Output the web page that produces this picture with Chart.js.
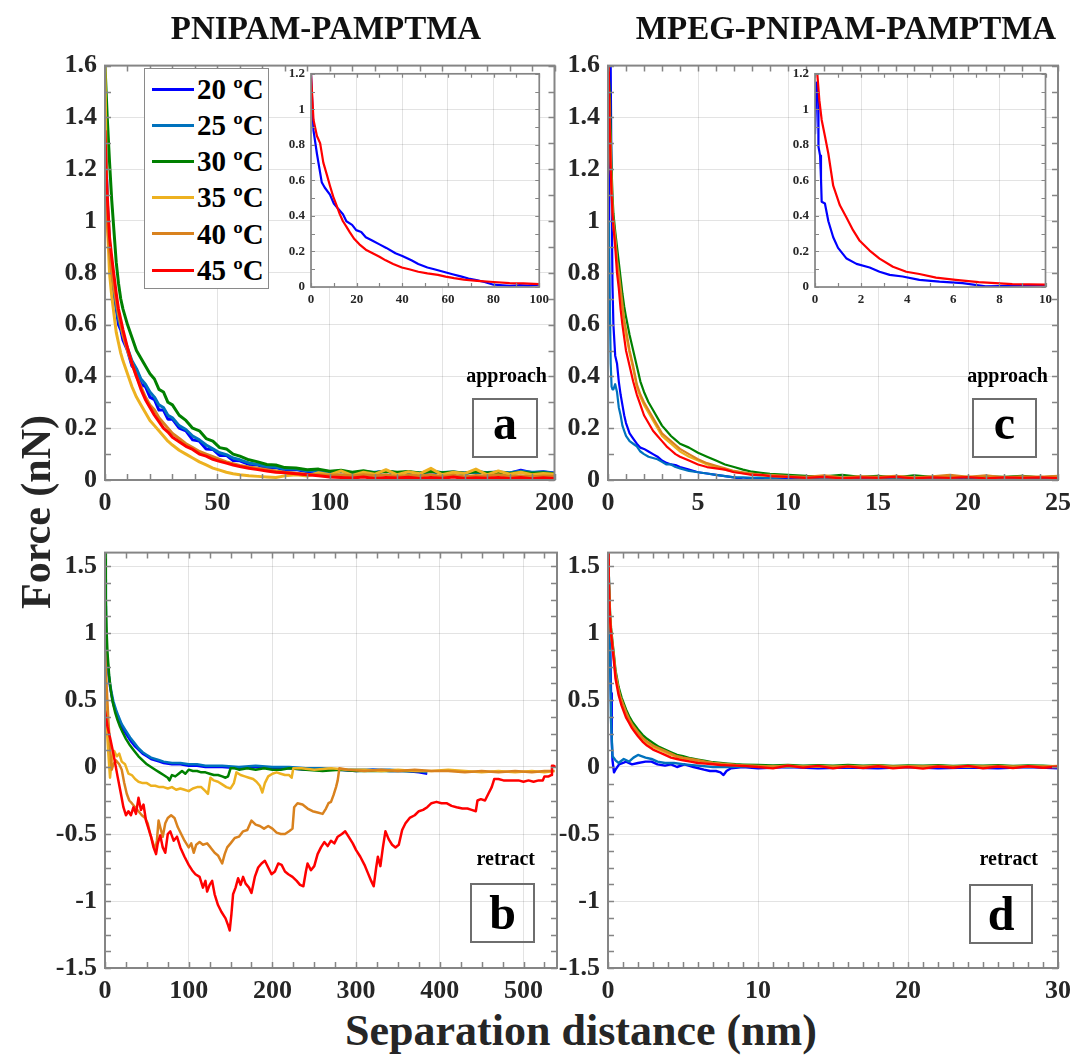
<!DOCTYPE html>
<html>
<head>
<meta charset="utf-8">
<script src="https://cdn.jsdelivr.net/npm/chart.js@4.4.0/dist/chart.umd.min.js"></script>
<style>
  body { margin: 0; background: #fff; width: 1079px; height: 1061px; position: relative; overflow: hidden;
         font-family: 'Liberation Serif', 'Times New Roman', serif; }
  canvas { position: absolute; }
  .t { position: absolute; font-weight: bold; line-height: 1; white-space: nowrap; }
  .legend { position: absolute; left: 144px; top: 68px; width: 125px; height: 221px; box-sizing: border-box;
            border: 1.5px solid #8a8a8a; background: #fff; }
  .lbox { position: absolute; box-sizing: border-box; border: 2px solid #6e6e6e; display: flex;
          align-items: center; justify-content: center; font-weight: bold; font-size: 48px; line-height: 1; }
</style>
</head>
<body>
<script>
// ---- data ----
const temps = ['20 ºC', '25 ºC', '30 ºC', '35 ºC', '40 ºC', '45 ºC'];
const colors = ['#0000ff', '#0072bd', '#008000', '#edb120', '#d9821e', '#ff0000'];

// panel a: approach, PNIPAM-PAMPTMA
const xA = [0,0.5,1,2,3,4,5,6,7,8,10,12,14,16,18,20,22,24,26,28,30,33,36,39,42,45,48,51,54,57,
  60,64,68,72,76,80,85,90,95,100,105,110,115,120,125,130,135,140,145,150,155,160,165,170,175,180,185,190,195,200];
const a20 = [1.5,1.22,1.06,0.9,0.8,0.72,0.66,0.6,0.58,0.54,0.5,0.44,0.42,0.37,0.36,0.32,0.31,0.27,0.27,0.235,
  0.235,0.2,0.19,0.155,0.15,0.12,0.118,0.095,0.095,0.075,0.074,0.06,0.058,0.046,0.048,0.038,0.04,0.032,0.036,0.028,
  0.034,0.026,0.032,0.028,0.035,0.027,0.031,0.025,0.033,0.027,0.03,0.026,0.032,0.028,0.03,0.026,0.038,0.028,0.032,0.027];
const a25 = [1.55,1.25,1.08,0.92,0.81,0.73,0.67,0.62,0.59,0.56,0.51,0.46,0.43,0.39,0.37,0.34,0.32,0.29,0.28,0.25,
  0.24,0.21,0.195,0.17,0.155,0.135,0.12,0.105,0.098,0.085,0.078,0.066,0.06,0.052,0.05,0.042,0.042,0.036,0.036,0.032,
  0.033,0.028,0.03,0.03,0.033,0.028,0.03,0.027,0.032,0.029,0.031,0.027,0.03,0.029,0.031,0.028,0.034,0.03,0.031,0.026];
const a30 = [1.6,1.5,1.4,1.23,1.08,0.96,0.84,0.76,0.7,0.66,0.6,0.55,0.5,0.47,0.44,0.41,0.39,0.35,0.34,0.3,
  0.29,0.25,0.23,0.2,0.19,0.16,0.15,0.125,0.12,0.1,0.092,0.078,0.07,0.06,0.058,0.048,0.046,0.04,0.042,0.034,
  0.038,0.03,0.036,0.028,0.034,0.03,0.033,0.027,0.034,0.028,0.031,0.026,0.033,0.027,0.03,0.025,0.03,0.026,0.028,0.024];
const a35 = [1.6,1.22,1.0,0.8,0.71,0.64,0.57,0.53,0.49,0.46,0.41,0.36,0.32,0.29,0.26,0.23,0.21,0.19,0.17,0.15,
  0.135,0.115,0.1,0.085,0.07,0.058,0.046,0.038,0.03,0.024,0.02,0.016,0.014,0.012,0.01,0.016,0.02,0.015,0.028,0.02,
  0.035,0.018,0.03,0.022,0.04,0.02,0.032,0.024,0.045,0.02,0.03,0.025,0.042,0.02,0.035,0.022,0.03,0.02,0.025,0.022];
const a40 = [1.3,1.12,1.0,0.88,0.8,0.74,0.69,0.64,0.6,0.56,0.5,0.45,0.4,0.36,0.32,0.29,0.27,0.24,0.22,0.2,
  0.18,0.16,0.14,0.125,0.11,0.1,0.09,0.08,0.07,0.063,0.056,0.05,0.045,0.04,0.035,0.03,0.026,0.022,0.02,0.018,
  0.02,0.015,0.02,0.016,0.02,0.014,0.018,0.015,0.02,0.014,0.018,0.013,0.017,0.015,0.02,0.014,0.016,0.013,0.015,0.014];
const a45 = [1.35,1.2,1.1,0.94,0.86,0.79,0.72,0.66,0.62,0.58,0.51,0.45,0.4,0.35,0.31,0.28,0.25,0.225,0.2,0.185,
  0.165,0.148,0.13,0.118,0.1,0.092,0.08,0.072,0.065,0.058,0.052,0.045,0.04,0.035,0.03,0.028,0.024,0.02,0.016,0.012,
  0.01,0.008,0.012,0.006,0.01,0.008,0.011,0.006,0.01,0.007,0.012,0.006,0.009,0.007,0.01,0.006,0.01,0.005,0.009,0.006];

// panel c: approach, MPEG-PNIPAM-PAMPTMA
const xC = [0,0.05,0.1,0.15,0.2,0.25,0.3,0.4,0.5,0.6,0.7,0.8,0.9,1,1.2,1.4,1.6,1.8,2,2.25,
  2.5,2.75,3,3.25,3.5,3.75,4,4.5,5,5.5,6,6.5,7,7.5,8,8.5,9,10,11,12,13,14,15,16,17,18,19,20,21,22,23,24,25];
const c20 = [0.9,1.2,1.4,1.6,1.1,0.75,0.6,0.48,0.45,0.38,0.33,0.29,0.25,0.22,0.18,0.16,0.14,0.125,0.12,0.11,
  0.1,0.09,0.075,0.066,0.06,0.058,0.05,0.04,0.03,0.025,0.02,0.015,0.01,0.002,0.006,0.004,0.006,0.008,0.004,0.01,
  0.006,0.009,0.005,0.012,0.004,0.008,0.006,0.01,0.005,0.009,0.004,0.008,0.006];
const c25 = [0.6,1.0,0.7,0.45,0.36,0.35,0.35,0.37,0.34,0.28,0.25,0.21,0.19,0.17,0.15,0.14,0.13,0.11,0.1,0.09,
  0.085,0.08,0.07,0.06,0.06,0.05,0.045,0.035,0.03,0.025,0.02,0.015,0.01,0.01,0.008,0.01,0.006,0.012,0.008,0.01,
  0.006,0.012,0.007,0.01,0.006,0.01,0.008,0.012,0.006,0.01,0.008,0.012,0.007];
const c30 = [1.6,1.6,1.5,1.35,1.2,1.1,1.03,0.96,0.9,0.84,0.78,0.72,0.67,0.63,0.56,0.5,0.44,0.38,0.34,0.3,
  0.27,0.24,0.21,0.19,0.17,0.155,0.14,0.125,0.105,0.09,0.075,0.06,0.05,0.04,0.032,0.028,0.024,0.02,0.016,0.014,
  0.02,0.012,0.016,0.01,0.018,0.012,0.015,0.01,0.014,0.012,0.016,0.01,0.014];
const c35 = [1.6,1.5,1.38,1.22,1.12,1.04,0.98,0.92,0.84,0.78,0.72,0.66,0.6,0.56,0.49,0.43,0.36,0.32,0.29,0.26,
  0.23,0.2,0.17,0.155,0.14,0.125,0.11,0.09,0.075,0.06,0.05,0.04,0.032,0.026,0.022,0.018,0.016,0.012,0.01,0.012,
  0.008,0.012,0.01,0.013,0.009,0.012,0.01,0.013,0.008,0.012,0.01,0.012,0.01];
const c40 = [1.6,1.5,1.4,1.25,1.15,1.06,1.0,0.94,0.85,0.8,0.74,0.68,0.62,0.58,0.5,0.44,0.37,0.33,0.3,0.27,
  0.24,0.21,0.18,0.165,0.15,0.135,0.12,0.1,0.08,0.065,0.055,0.045,0.035,0.03,0.025,0.02,0.02,0.015,0.012,0.018,
  0.01,0.014,0.012,0.016,0.01,0.014,0.02,0.012,0.018,0.01,0.014,0.012,0.016];
const c45 = [1.6,1.55,1.35,1.2,1.1,1.03,0.98,0.9,0.8,0.74,0.66,0.6,0.55,0.5,0.44,0.38,0.33,0.29,0.25,0.22,
  0.19,0.17,0.15,0.13,0.115,0.1,0.09,0.075,0.06,0.05,0.045,0.04,0.03,0.025,0.02,0.02,0.015,0.012,0.008,0.012,
  0.006,0.01,0.008,0.012,0.006,0.01,0.008,0.011,0.006,0.01,0.008,0.01,0.007];

// panel b: retract, PNIPAM-PAMPTMA
const bXblue = [0,1,2,4,6,8,10,13,16,20,25,30,35,40,45,50,55,60,65,70,80,90,100,110,120,140,160,180,200,220,
  240,260,280,300,320,340,360,375,385];
const b20 = [1.2,1.0,0.85,0.7,0.6,0.53,0.47,0.41,0.36,0.3,0.25,0.2,0.16,0.13,0.1,0.08,0.06,0.05,0.04,0.03,
  0.02,0.02,0.01,0.01,0.0,0.0,-0.01,0.0,-0.01,-0.01,-0.02,-0.02,-0.02,-0.03,-0.02,-0.03,-0.03,-0.04,-0.05];
const b25 = [1.4,1.05,0.88,0.72,0.62,0.55,0.49,0.43,0.38,0.32,0.27,0.22,0.18,0.14,0.11,0.09,0.07,0.06,0.05,0.04,
  0.03,0.03,0.02,0.02,0.01,0.01,0.0,0.01,0.0,0.0,-0.01,-0.01,-0.02,-0.02,-0.02,-0.02,-0.03,-0.03,-0.04];
const bX30 = [0,1,2,3,5,7,9,12,15,18,21,25,30,35,40,45,50,55,60,65,70,75,77,80,84,88,92,96,100,105,
  110,115,120,125,130,135,140,144,147,150,155,160,170,180,190,200,210,220,240,260,280,300,320,340,360,380];
const b30 = [1.6,1.25,1.0,0.85,0.68,0.57,0.49,0.41,0.35,0.3,0.26,0.21,0.16,0.12,0.08,0.05,0.02,0.0,-0.02,-0.04,
  -0.06,-0.08,-0.1,-0.06,-0.07,-0.05,-0.03,-0.05,-0.02,-0.03,-0.03,-0.04,-0.04,-0.05,-0.06,-0.06,-0.07,-0.08,-0.07,-0.01,
  -0.01,-0.02,-0.01,-0.02,-0.01,-0.02,-0.02,-0.01,-0.02,-0.03,-0.02,-0.03,-0.03,-0.03,-0.03,-0.03];
const bX35 = [0,2,4,6,8,11,14,17,20,24,28,32,36,40,45,50,55,60,65,70,75,80,85,90,95,100,105,110,115,120,
  123,126,130,135,140,145,150,154,157,162,167,172,177,181,185,188,191,195,200,205,210,215,220,223,225,235,250,270,290,310,
  330,350,370,390,410,430,450,470,490,510,525,537];
const b35 = [0.56,0.3,0.1,-0.08,0.05,0.12,0.08,0.1,0.04,0.02,-0.05,-0.06,-0.09,-0.11,-0.12,-0.12,-0.14,-0.14,-0.15,-0.15,
  -0.16,-0.15,-0.17,-0.16,-0.17,-0.18,-0.16,-0.15,-0.15,-0.18,-0.2,-0.08,-0.1,-0.11,-0.13,-0.15,-0.16,-0.12,-0.04,-0.06,
  -0.07,-0.08,-0.09,-0.11,-0.14,-0.19,-0.12,-0.07,-0.05,-0.04,-0.05,-0.06,-0.06,-0.08,-0.01,-0.01,-0.02,-0.01,-0.02,-0.02,
  -0.03,-0.02,-0.03,-0.03,-0.02,-0.03,-0.04,-0.03,-0.04,-0.03,-0.04,-0.03];
const bX40 = [0,2,4,6,8,10,13,17,20,23,26,29,32,36,40,44,48,51,54,57,60,62,64,66,69,72,75,79,83,87,
  91,95,100,103,106,109,113,117,122,126,131,135,140,143,146,150,155,160,165,170,175,180,185,190,195,200,205,210,215,220,
  224,226,230,236,242,248,254,260,264,267,270,273,276,278,280,290,310,330,350,370,390,410,430,450,470,490,510,525,537];
const b40 = [0.87,0.6,0.35,0.15,-0.02,0.02,0.05,0.02,-0.02,-0.12,-0.2,-0.25,-0.27,-0.3,-0.33,-0.36,-0.38,-0.42,-0.5,-0.56,
  -0.62,-0.55,-0.4,-0.45,-0.52,-0.42,-0.38,-0.36,-0.38,-0.45,-0.5,-0.55,-0.6,-0.57,-0.64,-0.58,-0.56,-0.58,-0.57,-0.6,
  -0.64,-0.66,-0.72,-0.65,-0.6,-0.57,-0.53,-0.52,-0.48,-0.47,-0.4,-0.43,-0.44,-0.46,-0.44,-0.46,-0.49,-0.5,-0.5,-0.48,
  -0.46,-0.3,-0.27,-0.28,-0.31,-0.33,-0.34,-0.35,-0.31,-0.27,-0.26,-0.21,-0.15,-0.1,-0.01,-0.02,-0.03,-0.02,-0.03,-0.02,
  -0.03,-0.03,-0.04,-0.03,-0.04,-0.03,-0.04,-0.03,-0.03];
const bX45 = [0,3,6,10,15,19,22,25,28,31,34,37,40,43,46,49,52,55,58,61,63,66,69,72,75,78,82,86,90,95,
  100,104,108,113,117,120,122,125,128,131,135,139,144,147,149,151,153,156,159,162,165,168,172,175,179,183,187,191,195,199,
  203,207,211,215,219,224,229,233,237,240,242,246,250,254,258,262,266,270,274,278,283,287,291,296,300,305,310,314,318,321,
  324,326,329,332,335,339,343,347,351,355,359,364,370,375,380,385,390,396,402,408,414,420,427,433,438,443,445,449,454,458,
  462,465,470,476,482,488,494,500,506,512,518,523,525,530,533,534,536,538];
const b45 = [0.42,0.3,0.22,0.1,-0.07,-0.2,-0.3,-0.36,-0.33,-0.36,-0.3,-0.35,-0.23,-0.32,-0.28,-0.4,-0.46,-0.52,-0.6,-0.65,
  -0.57,-0.51,-0.6,-0.64,-0.5,-0.48,-0.55,-0.52,-0.6,-0.67,-0.73,-0.77,-0.8,-0.82,-0.9,-0.85,-0.93,-0.88,-0.85,-0.95,
  -1.03,-1.08,-1.13,-1.18,-1.22,-1.1,-0.95,-0.9,-0.83,-0.88,-0.82,-0.87,-0.9,-0.94,-0.82,-0.75,-0.72,-0.7,-0.75,-0.8,
  -0.78,-0.72,-0.73,-0.78,-0.8,-0.82,-0.85,-0.88,-0.89,-0.78,-0.72,-0.77,-0.74,-0.65,-0.6,-0.56,-0.59,-0.55,-0.57,-0.52,
  -0.5,-0.48,-0.52,-0.57,-0.62,-0.67,-0.73,-0.79,-0.85,-0.89,-0.75,-0.67,-0.74,-0.6,-0.48,-0.54,-0.58,-0.6,-0.58,-0.47,
  -0.42,-0.38,-0.36,-0.33,-0.32,-0.3,-0.27,-0.26,-0.27,-0.27,-0.29,-0.3,-0.31,-0.31,-0.32,-0.33,-0.25,-0.24,-0.25,-0.2,
  -0.15,-0.09,-0.09,-0.1,-0.1,-0.1,-0.1,-0.11,-0.1,-0.11,-0.1,-0.1,-0.07,-0.07,-0.06,0.01,0.01,0.0];

// panel d: retract, MPEG-PNIPAM-PAMPTMA
const dX20 = [0,0.05,0.1,0.15,0.2,0.25,0.3,0.4,0.5,0.74,1,1.2,1.6,2,2.5,2.9,3.3,3.8,4.2,4.6,
  5.1,5.7,6.4,6.8,7.2,7.5,7.7,7.9,8.2,9,10,12,14,16,18,20,22,24,26,28,30];
const d20 = [1.5,1.45,1.2,0.9,0.55,0.2,0.05,-0.04,-0.02,0.02,0.03,0.04,0.02,0.03,0.04,0.04,0.02,0.01,0.02,0.0,
  0.02,0.0,-0.02,-0.03,-0.03,-0.04,-0.06,-0.03,-0.01,0.0,-0.01,0.0,-0.01,-0.005,-0.01,0.0,-0.01,-0.005,-0.01,0.0,-0.01];
const dX25 = [0,0.05,0.1,0.15,0.2,0.3,0.5,0.7,1.05,1.4,1.7,2,2.5,2.9,3.3,3.8,4.4,5.1,6,7,8,10,12,14,16,18,20,22,24,26,28,30];
const d25 = [1.3,1.2,1.0,0.7,0.35,0.08,0.05,0.03,0.06,0.04,0.07,0.09,0.07,0.06,0.04,0.03,0.03,0.02,0.01,0.0,
  0.0,0.005,0.0,0.005,0.0,0.004,0.0,0.005,0.0,0.004,0.0,0.004];
const xD = [0,0.05,0.1,0.15,0.2,0.3,0.4,0.5,0.6,0.7,0.8,0.9,1,1.2,1.4,1.6,1.8,2,2.3,2.6,
  3,3.4,3.8,4.2,4.6,5,5.5,6,6.5,7,7.5,8,8.5,9,10,11,12,13,14,15,16,17,18,19,20,21,22,23,24,25,26,27,28,29,30];
const d30 = [1.6,1.45,1.25,1.12,1.04,0.93,0.83,0.72,0.66,0.6,0.56,0.52,0.49,0.43,0.38,0.34,0.31,0.28,0.24,0.21,
  0.18,0.15,0.13,0.11,0.09,0.08,0.065,0.055,0.045,0.035,0.03,0.025,0.02,0.018,0.015,0.012,0.016,0.01,0.014,0.01,
  0.015,0.01,0.014,0.008,0.012,0.01,0.014,0.008,0.012,0.01,0.013,0.008,0.012,0.01,0.005];
const d35 = [1.55,1.4,1.2,1.08,1.0,0.9,0.8,0.69,0.63,0.57,0.52,0.49,0.46,0.4,0.35,0.31,0.28,0.25,0.21,0.18,
  0.15,0.13,0.11,0.09,0.075,0.065,0.055,0.045,0.035,0.028,0.022,0.018,0.014,0.01,0.006,0.004,0.008,0.003,0.006,0.002,
  0.006,0.003,0.007,0.002,0.005,0.003,0.006,0.002,0.005,0.003,0.006,0.002,0.005,0.003,0.006];
const d40 = [1.55,1.42,1.22,1.1,1.02,0.91,0.81,0.7,0.64,0.58,0.53,0.5,0.47,0.41,0.36,0.32,0.29,0.26,0.22,0.19,
  0.16,0.14,0.12,0.1,0.08,0.07,0.06,0.05,0.04,0.03,0.025,0.02,0.015,0.012,0.008,0.005,0.01,0.004,0.008,0.003,
  0.008,0.004,0.009,0.002,0.006,0.004,0.008,0.003,0.006,0.004,0.007,0.003,0.006,0.004,0.008];
const d45 = [1.6,1.4,1.2,1.08,1.0,0.89,0.78,0.66,0.6,0.54,0.5,0.46,0.43,0.37,0.33,0.29,0.26,0.23,0.19,0.16,
  0.13,0.11,0.09,0.07,0.06,0.05,0.04,0.03,0.025,0.02,0.015,0.012,0.01,0.008,0.0,-0.01,0.01,-0.005,0.008,-0.01,
  0.005,-0.008,0.006,-0.01,0.0,-0.012,0.004,-0.006,0.008,-0.01,0.004,-0.008,0.006,-0.006,0.002];

// insets (approach, 20 ºC and 45 ºC)
const iaX20 = [0,1.1,2.6,4.7,6,8.3,10,11.9,14,15.5,18,19.8,22,24,27,30,33,37,40,44,47,51,54,58,62,65.6,69,73,76,80,84,87,91,95,100];
const ia20 = [1.2,0.88,0.75,0.59,0.56,0.52,0.47,0.44,0.41,0.37,0.35,0.32,0.31,0.28,0.26,0.24,0.22,0.19,0.175,0.15,
  0.13,0.11,0.1,0.086,0.072,0.06,0.048,0.037,0.028,0.013,0.01,0.007,0.01,0.008,0.013];
const iaX45 = [0,1.1,2.6,4,5.4,7,8.3,9.7,11.2,12.6,14,15.5,16.9,19,21.2,24,27,30,32.7,36,39.8,43,47,51,55.6,59,62.7,67,72.8,80,87,93,100];
const ia45 = [1.2,0.94,0.85,0.81,0.7,0.63,0.57,0.51,0.46,0.41,0.37,0.34,0.31,0.27,0.24,0.21,0.19,0.17,0.15,0.13,
  0.11,0.1,0.086,0.077,0.068,0.058,0.05,0.042,0.035,0.028,0.022,0.02,0.016];
const icX20 = [0,0.07,0.14,0.15,0.22,0.26,0.29,0.43,0.58,0.79,1,1.37,1.8,2.37,2.8,3.24,3.8,4.53,5.4,6.4,7.4,8.6,10];
const ic20 = [0.86,1.15,1.07,0.79,0.74,0.61,0.48,0.47,0.37,0.28,0.22,0.16,0.13,0.11,0.086,0.068,0.059,0.04,0.03,0.022,0.004,0.007,0.01];
const icX45 = [0.1,0.19,0.29,0.43,0.58,0.79,1.08,1.37,1.65,1.94,2.37,2.8,3.38,3.96,4.53,5.25,6.1,7.1,8.56,10];
const ic45 = [1.2,1.05,0.94,0.85,0.75,0.57,0.46,0.39,0.32,0.26,0.205,0.16,0.114,0.086,0.073,0.053,0.04,0.027,0.016,0.013];

// tick labels
const tA = [0, 50, 100, 150, 200];
const tC = [0, 5, 10, 15, 20, 25];
const tB = [0, 100, 200, 300, 400, 500];
const tD = [0, 10, 20, 30];
const tYapp = [0, 0.2, 0.4, 0.6, 0.8, 1, 1.2, 1.4, 1.6];
const tYret = [-1.5, -1, -0.5, 0, 0.5, 1, 1.5];
const tIa = [0, 20, 40, 60, 80, 100];
const tIc = [0, 2, 4, 6, 8, 10];
const tIy = [0, 0.2, 0.4, 0.6, 0.8, 1, 1.2];

// ---- drawing ----
const SERIF = "'Liberation Serif', 'Times New Roman', serif";
const INK = '#262626';
const GRID = 'rgba(0,0,0,0.11)';

const pts = (xs, ys) => xs.map((x, i) => ({x: x, y: ys[i]}));

// MATLAB style box with inward ticks on all four sides
const frame = {
  id: 'frame',
  beforeDraw(chart, args, o) {
    if (!o.white) return;
    const a = chart.chartArea;
    chart.ctx.fillStyle = '#fff';
    chart.ctx.fillRect(a.left, a.top, a.right - a.left, a.bottom - a.top);
  },
  afterDatasetsDraw(chart, args, o) {
    const {ctx, chartArea: a, scales: {x, y}} = chart;
    const len = o.len;
    ctx.save();
    ctx.strokeStyle = '#858585';
    ctx.lineWidth = o.lw;
    ctx.beginPath();
    const nx = Math.floor((x.max - x.min) / o.mx + 1e-6);
    for (let i = 0; i <= nx; i++) {
      const p = Math.round(x.getPixelForValue(x.min + i * o.mx)) + 0.5;
      ctx.moveTo(p, a.bottom); ctx.lineTo(p, a.bottom - len);
      ctx.moveTo(p, a.top); ctx.lineTo(p, a.top + len);
    }
    const ny = Math.floor((y.max - y.min) / o.my + 1e-6);
    for (let i = 0; i <= ny; i++) {
      const p = Math.round(y.getPixelForValue(y.min + i * o.my)) + 0.5;
      ctx.moveTo(a.left, p); ctx.lineTo(a.left + len, p);
      ctx.moveTo(a.right, p); ctx.lineTo(a.right - len, p);
    }
    ctx.stroke();
    ctx.lineWidth = o.lw + 0.5;
    ctx.strokeRect(a.left, a.top, a.right - a.left, a.bottom - a.top);
    ctx.restore();
  }
};

function makeChart(o) {
  const cv = document.createElement('canvas');
  const L = o.area[0] - o.pad[0], T = o.area[1] - o.pad[1];
  cv.width = o.area[2] + o.pad[2] - L;
  cv.height = o.area[3] + o.pad[3] - T;
  cv.style.left = L + 'px';
  cv.style.top = T + 'px';
  document.body.appendChild(cv);
  const font = {family: SERIF, size: o.fs, weight: 'bold'};
  return new Chart(cv, {
    type: 'line',
    data: {
      datasets: o.series.map(s => ({
        data: s.data, borderColor: s.color, borderWidth: o.lw, pointRadius: 0,
        tension: 0, clip: 0, order: s.order, borderJoinStyle: 'round'
      }))
    },
    options: {
      responsive: false, animation: false, events: [],
      layout: {padding: {left: 0, top: o.pad[1], right: o.pad[2], bottom: 0}},
      plugins: {
        legend: {display: false}, tooltip: {enabled: false},
        frame: {mx: o.minor[0], my: o.minor[1], white: !!o.white, len: o.tickLen, lw: o.frameW}
      },
      scales: {
        x: {
          type: 'linear', min: o.xr[0], max: o.xr[1],
          afterFit: s => { s.height = o.pad[3]; },
          afterBuildTicks: s => { s.ticks = o.xt.map(v => ({value: v})); },
          grid: {color: GRID, drawTicks: false}, border: {display: false},
          ticks: {font, color: INK, padding: o.tp[0], maxRotation: 0, autoSkip: false, callback: v => String(v)}
        },
        y: {
          type: 'linear', min: o.yr[0], max: o.yr[1],
          afterFit: s => { s.width = o.pad[0]; },
          afterBuildTicks: s => { s.ticks = o.yt.map(v => ({value: v})); },
          grid: {color: GRID, drawTicks: false}, border: {display: false},
          ticks: {font, color: INK, padding: o.tp[1], autoSkip: false, callback: v => String(v)}
        }
      }
    },
    plugins: [frame]
  });
}

const six = (xs, ys) => ys.map((y, i) => ({
  data: pts(Array.isArray(xs[0]) ? xs[i] : xs, y), color: colors[i], order: 5 - i
}));

const mainOpts = {fs: 26, tp: [8, 8], tickLen: 6, frameW: 1.5};

makeChart(Object.assign({}, mainOpts, {
  area: [105, 58, 557, 480], pad: [65, 16, 25, 35], xr: [0, 200], yr: [0, 1.6], xt: tA, yt: tYapp,
  minor: [10, 0.1], lw: 3, series: six(xA, [a20, a25, a30, a35, a40, a45])
}));
makeChart(Object.assign({}, mainOpts, {
  area: [608, 58, 1058, 480], pad: [65, 16, 21, 35], xr: [0, 25], yr: [0, 1.6], xt: tC, yt: tYapp,
  minor: [1, 0.1], lw: 2.2, series: six(xC, [c20, c25, c30, c35, c40, c45])
}));
makeChart(Object.assign({}, mainOpts, {
  area: [105, 545, 557, 968], pad: [65, 16, 25, 35], xr: [0, 540], yr: [-1.5, 1.6], xt: tB, yt: tYret,
  minor: [25, 0.125], lw: 2.5,
  series: six([bXblue, bXblue, bX30, bX35, bX40, bX45], [b20, b25, b30, b35, b40, b45])
}));
makeChart(Object.assign({}, mainOpts, {
  area: [608, 545, 1058, 968], pad: [65, 16, 21, 35], xr: [0, 30], yr: [-1.5, 1.6], xt: tD, yt: tYret,
  minor: [1, 0.125], lw: 2.4,
  series: six([dX20, dX25, xD, xD, xD, xD], [d20, d25, d30, d35, d40, d45])
}));

const insetOpts = {fs: 13, tp: [5, 6], tickLen: 4, frameW: 1.2, lw: 2.2, white: true, pad: [30, 9, 10, 22]};
makeChart(Object.assign({}, insetOpts, {
  area: [311, 69, 544, 287], xr: [0, 100], yr: [0, 1.2], xt: tIa, yt: tIy, minor: [10, 0.1],
  series: [{data: pts(iaX20, ia20), color: colors[0], order: 1}, {data: pts(iaX45, ia45), color: colors[5], order: 0}]
}));
makeChart(Object.assign({}, insetOpts, {
  area: [815, 69, 1047, 287], xr: [0, 10], yr: [0, 1.2], xt: tIc, yt: tIy, minor: [1, 0.1],
  series: [{data: pts(icX20, ic20), color: colors[0], order: 1}, {data: pts(icX45, ic45), color: colors[5], order: 0}]
}));

// ---- legend ----
const lg = document.createElement('div');
lg.className = 'legend';
temps.forEach((t, i) => {
  const cy = 20 + i * 36.2;
  const ln = document.createElement('div');
  ln.style.cssText = `position:absolute;left:7px;top:${cy - 1.5}px;width:42px;height:3px;background:${colors[i]}`;
  const tx = document.createElement('div');
  tx.className = 't';
  tx.style.cssText += `left:52px;top:${cy + 10 - 0.8375 * 29}px;font-size:29px;color:#000`;
  tx.textContent = t;
  lg.appendChild(ln);
  lg.appendChild(tx);
});
document.body.appendChild(lg);

// ---- text ----
function text(str, x, base, size, align, color) {
  const d = document.createElement('div');
  d.className = 't';
  d.textContent = str;
  d.style.fontSize = size + 'px';
  d.style.color = color || '#000';
  d.style.left = x + 'px';
  d.style.top = (base - 0.8375 * size) + 'px';
  if (align === 'center') d.style.transform = 'translateX(-50%)';
  if (align === 'right') d.style.transform = 'translateX(-100%)';
  document.body.appendChild(d);
}
text('PNIPAM-PAMPTMA', 326, 40, 33, 'center', '#111');
text('MPEG-PNIPAM-PAMPTMA', 846, 40, 33, 'center', '#111');
text('Separation distance (nm)', 581, 1046, 44, 'center', INK);
text('approach', 547, 382, 20, 'right');
text('approach', 1048, 382, 20, 'right');
text('retract', 535, 865, 20, 'right');
text('retract', 1038, 865, 20, 'right');

const yl = document.createElement('div');
yl.className = 't';
yl.textContent = 'Force (nN)';
yl.style.cssText += `font-size:42px;color:${INK};left:36px;top:512px;transform:translate(-50%,-50%) rotate(-90deg)`;
document.body.appendChild(yl);

// panel letters
[['a', 472, 398, 66, 60, -5], ['c', 972, 398, 65, 60, -5], ['b', 470, 883, 65, 60, 0], ['d', 969, 884, 64, 60, 0]]
  .forEach(([ch, l, t, w, h, dy]) => {
    const b = document.createElement('div');
    b.className = 'lbox';
    b.style.cssText += `left:${l}px;top:${t}px;width:${w}px;height:${h}px`;
    const s = document.createElement('span');
    s.textContent = ch;
    s.style.transform = `translateY(${dy}px)`;
    b.appendChild(s);
    document.body.appendChild(b);
  });
</script>
</body>
</html>
